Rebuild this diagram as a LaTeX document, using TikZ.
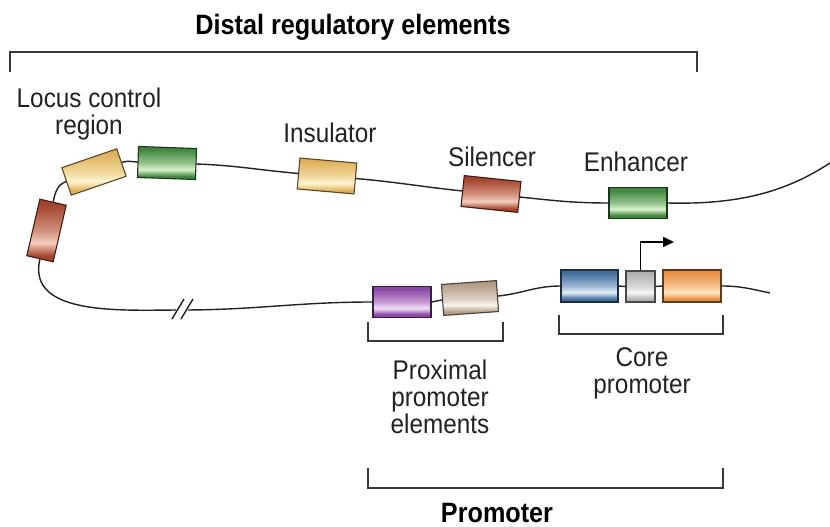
\documentclass[tikz,border=0pt]{standalone}
\usepackage{fontspec}
\setmainfont[FakeStretch=0.9]{Liberation Sans}
\usetikzlibrary{arrows.meta,calc}
\definecolor{ink}{HTML}{222222}
\definecolor{redB}{HTML}{A5452F}\definecolor{redL}{HTML}{F6CDBE}
\definecolor{yelB}{HTML}{E0B25A}\definecolor{yelL}{HTML}{FFF6D2}
\definecolor{grnB}{HTML}{428840}\definecolor{grnL}{HTML}{D8F2CE}
\definecolor{purB}{HTML}{8C4CA6}\definecolor{purL}{HTML}{F4DCF8}
\definecolor{tanB}{HTML}{B49C86}\definecolor{tanL}{HTML}{FAF4EC}
\definecolor{bluB}{HTML}{46709E}\definecolor{bluL}{HTML}{E2EEFA}
\definecolor{gryB}{HTML}{B4B4B4}\definecolor{gryL}{HTML}{F6F6F6}
\definecolor{orgB}{HTML}{E89048}\definecolor{orgL}{HTML}{FFE8C4}
\colorlet{tubeB}{grnB}\colorlet{tubeL}{grnL}
\pgfdeclareverticalshading[tubeB,tubeL]{tubeshade}{100bp}{%
  color(0bp)=(tubeB!55!black);
  color(14bp)=(tubeB!85!black);
  color(30bp)=(tubeB);
  color(40bp)=(tubeL);
  color(50bp)=(tubeL!55!tubeB);
  color(70bp)=(tubeB);
  color(88bp)=(tubeB!85!black);
  color(100bp)=(tubeB!60!black)}
\begin{document}
\begin{tikzpicture}[x=1pt,y=1pt,
  cyl/.style={rectangle, line width=1.1pt, minimum width=58pt, minimum height=31pt, inner sep=0pt},
  tube/.style 2 args={cyl, draw=#1!40!black,
     /utils/exec={\colorlet{tubeB}{#1}\colorlet{tubeL}{#2}}, shade, shading=tubeshade},
  dna/.style={line width=1.4pt, draw=ink},
  brack/.style={line width=1.7pt, draw=ink!90},
  lbl/.style={text=ink, font=\fontsize{27}{27}\selectfont, align=center, inner sep=0pt},
  blbl/.style={text=black, font=\fontsize{28}{28}\selectfont\bfseries, align=center, inner sep=0pt}]
\useasboundingbox (0,0) rectangle (830,527);
\fill[white] (0,0) rectangle (830,527);

% DNA elements
\node[tube={redB}{redL}, rotate=77, minimum height=27pt] (lcrA) at (46.5,296.5) {};
\node[tube={yelB}{yelL}, rotate=19, minimum height=29pt] (lcrB) at (94,355) {};
\node[tube={grnB}{grnL}, rotate=-2] (lcrC) at (167,364) {};
\node[tube={yelB}{yelL}, rotate=-5, minimum width=57pt] (ins) at (327,351) {};
\node[tube={redB}{redL}, rotate=-6, minimum width=57pt] (sil) at (491,333) {};
\node[tube={grnB}{grnL}] (enh) at (638,324) {};
\node[tube={purB}{purL}] (pur) at (402,225) {};
\node[tube={tanB}{tanL}, rotate=4, minimum width=55pt] (tan) at (470,229) {};
\node[tube={bluB}{bluL}, minimum width=57pt, minimum height=32pt] (blu) at (589.5,241) {};
\node[tube={gryB}{gryL}, minimum width=29pt] (gry) at (640.5,240.5) {};
\node[tube={orgB}{orgL}, minimum height=32pt] (org) at (692,241) {};

\coordinate (topend) at (830,364);
\coordinate (brk) at (182,217);
\coordinate (botend) at (770,234);
\coordinate (arrtip) at (674,285);

% DNA line
\draw[dna] (lcrA.east) to[out=77,in=199] (lcrB.west);
\draw[dna] (lcrB.east) to[out=19,in=178] (lcrC.west);
\draw[dna] (lcrC.east) to[out=-2,in=175] (ins.west);
\draw[dna] (ins.east) to[out=-5,in=174] (sil.west);
\draw[dna] (sil.east) to[out=-6,in=180] (enh.west);
\draw[dna] (enh.east) .. controls (745,322) and (790,338) .. (topend);
\draw[dna] (lcrA.west) to[out=257,in=180] (brk) to[out=0,in=180] (pur.west);
\draw[dna] (pur.east) -- (tan.west);
\draw[dna] (tan.east) to[out=6,in=180] (blu.west);
\draw[dna] (blu.east) -- (gry.west);
\draw[dna] (gry.east) -- (org.west);
\draw[dna] (org.east) to[out=0,in=168] (botend);

% break mark
\fill[white] ($(brk)+(-6,-4)$) rectangle ($(brk)+(6,4)$);
\draw[line width=1.4pt, draw=ink] ($(brk)+(-10,-9)$) -- ($(brk)+(2,11)$);
\draw[line width=1.4pt, draw=ink] ($(brk)+(-1,-9)$) -- ($(brk)+(11,11)$);

% transcription start arrow
\draw[line width=1.6pt, draw=black, -{Triangle[length=11pt,width=10pt]}] (gry.north) |- (arrtip);

% brackets
\draw[brack] (10,455) -- (10,475) -- (697,475) -- (697,455);
\draw[brack] (368,205) -- (368,186) -- (503,186) -- (503,205);
\draw[brack] (559,212) -- (559,193) -- (723,193) -- (723,212);
\draw[brack] (368,59) -- (368,39) -- (723,39) -- (723,59);

% labels
\node[blbl] (tDistal) at (353,500) {Distal regulatory elements};
\node[lbl] (tLCR) at (89,413) {Locus control\\region};
\node[lbl] (tIns) at (330,394) {Insulator};
\node[lbl] (tSil) at (492,370) {Silencer};
\node[lbl] (tEnh) at (636,365) {Enhancer};
\node[lbl] (tProx) at (440,130) {Proximal\\promoter\\elements};
\node[lbl] (tCore) at (642,153.5) {Core\\promoter};
\node[blbl] (tProm) at (497,14) {Promoter};
\end{tikzpicture}
\end{document}
